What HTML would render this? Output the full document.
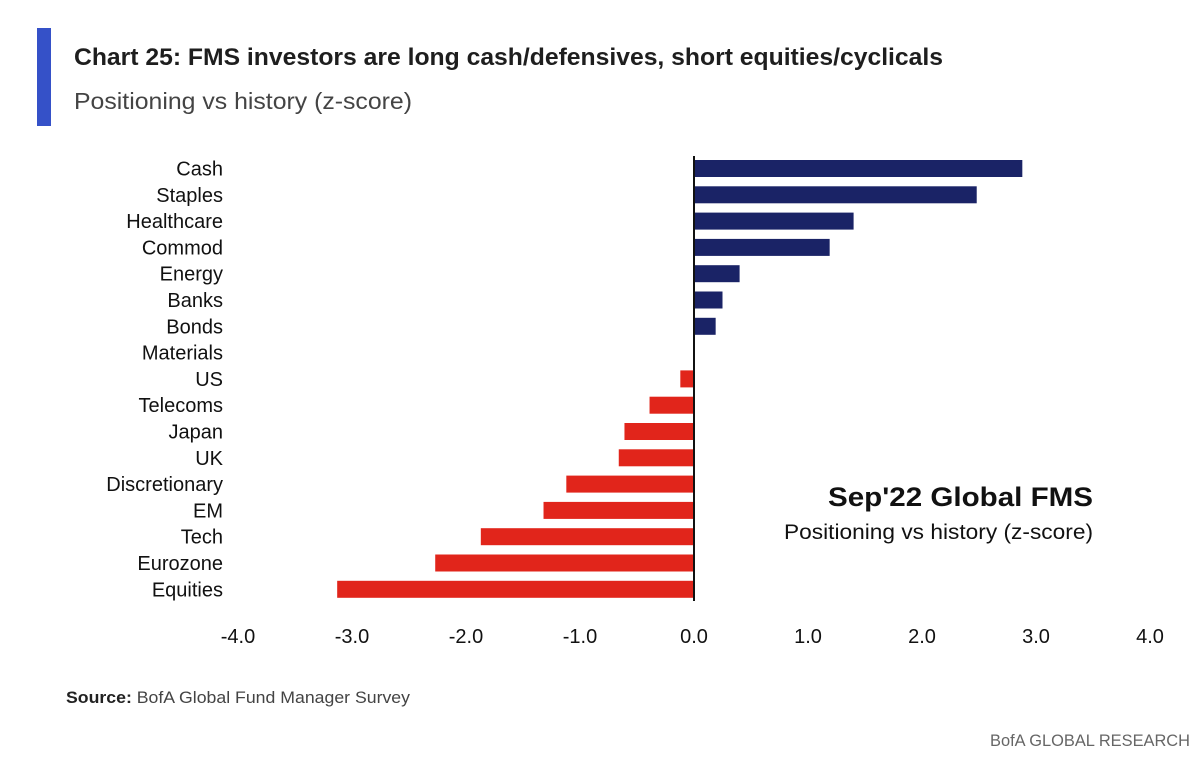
<!DOCTYPE html>
<html><head><meta charset="utf-8"><style>
body{margin:0;background:#fff;width:1200px;height:762px;overflow:hidden;font-family:"Liberation Sans",sans-serif;}
svg text{font-family:"Liberation Sans",sans-serif;}
</style></head><body>
<svg id="chart" width="1200" height="762">
<rect x="37" y="28" width="14" height="98" fill="#3551c8"/>
<text x="74" y="65" font-size="24" font-weight="bold" fill="#1e1e1e" textLength="869" lengthAdjust="spacingAndGlyphs">Chart 25: FMS investors are long cash/defensives, short equities/cyclicals</text>
<text x="74" y="109" font-size="23" fill="#444" textLength="338" lengthAdjust="spacingAndGlyphs">Positioning vs history (z-score)</text>
<g id="bars"></g>
<g id="labels"></g>
<g id="ticks"></g>
<text x="1093" y="506" font-size="27" font-weight="bold" fill="#111" text-anchor="end" textLength="265" lengthAdjust="spacingAndGlyphs">Sep'22 Global FMS</text>
<text x="1093" y="539" font-size="21" fill="#111" text-anchor="end" textLength="309" lengthAdjust="spacingAndGlyphs">Positioning vs history (z-score)</text>
<text x="66" y="703" font-size="17" fill="#444" textLength="344" lengthAdjust="spacingAndGlyphs"><tspan font-weight="bold" fill="#222">Source:</tspan> BofA Global Fund Manager Survey</text>
<text x="1190" y="746" font-size="17" fill="#666" text-anchor="end" textLength="200" lengthAdjust="spacingAndGlyphs">BofA GLOBAL RESEARCH</text>
</svg>
<script>
const categories=["Cash","Staples","Healthcare","Commod","Energy","Banks","Bonds","Materials","US","Telecoms","Japan","UK","Discretionary","EM","Tech","Eurozone","Equities"];
const values=[2.88,2.48,1.40,1.19,0.40,0.25,0.19,0,-0.12,-0.39,-0.61,-0.66,-1.12,-1.32,-1.87,-2.27,-3.13];
const tickValues=[-4,-3,-2,-1,0,1,2,3,4];
const tickLabels=["-4.0","-3.0","-2.0","-1.0","0.0","1.0","2.0","3.0","4.0"];
const NS="http://www.w3.org/2000/svg";
const x0=238,x1=1150,vmin=-4,vmax=4;
function xs(v){return x0+(v-vmin)/(vmax-vmin)*(x1-x0);}
function yc(i){return 168.5+i*26.3;}
const bars=document.getElementById('bars'),labels=document.getElementById('labels'),ticks=document.getElementById('ticks');
categories.forEach((c,i)=>{
 const v=values[i];
 const r=document.createElementNS(NS,'rect');
 r.setAttribute('x',Math.min(xs(0),xs(v)));
 r.setAttribute('width',Math.abs(xs(v)-xs(0)));
 r.setAttribute('y',yc(i)-8.5);
 r.setAttribute('height',17);
 r.setAttribute('fill',v>=0?'#1a2366':'#e1251b');
 
 
 bars.appendChild(r);
 const t=document.createElementNS(NS,'text');
 t.setAttribute('x',223);t.setAttribute('y',yc(i)+7);
 t.setAttribute('text-anchor','end');t.setAttribute('font-size','20');t.setAttribute('fill','#111');
 t.textContent=c;
 
 
 labels.appendChild(t);
});
const zl=document.createElementNS(NS,'line');
zl.setAttribute('x1',xs(0));zl.setAttribute('x2',xs(0));zl.setAttribute('y1',156);zl.setAttribute('y2',601);
zl.setAttribute('stroke','#111');zl.setAttribute('stroke-width','2');


bars.appendChild(zl);
tickValues.forEach((v,i)=>{
 const t=document.createElementNS(NS,'text');
 t.setAttribute('x',xs(v));t.setAttribute('y',643);
 t.setAttribute('text-anchor','middle');t.setAttribute('font-size','20');t.setAttribute('fill','#111');
 t.textContent=tickLabels[i];
 
 
 ticks.appendChild(t);
});
</script>
</body></html>
